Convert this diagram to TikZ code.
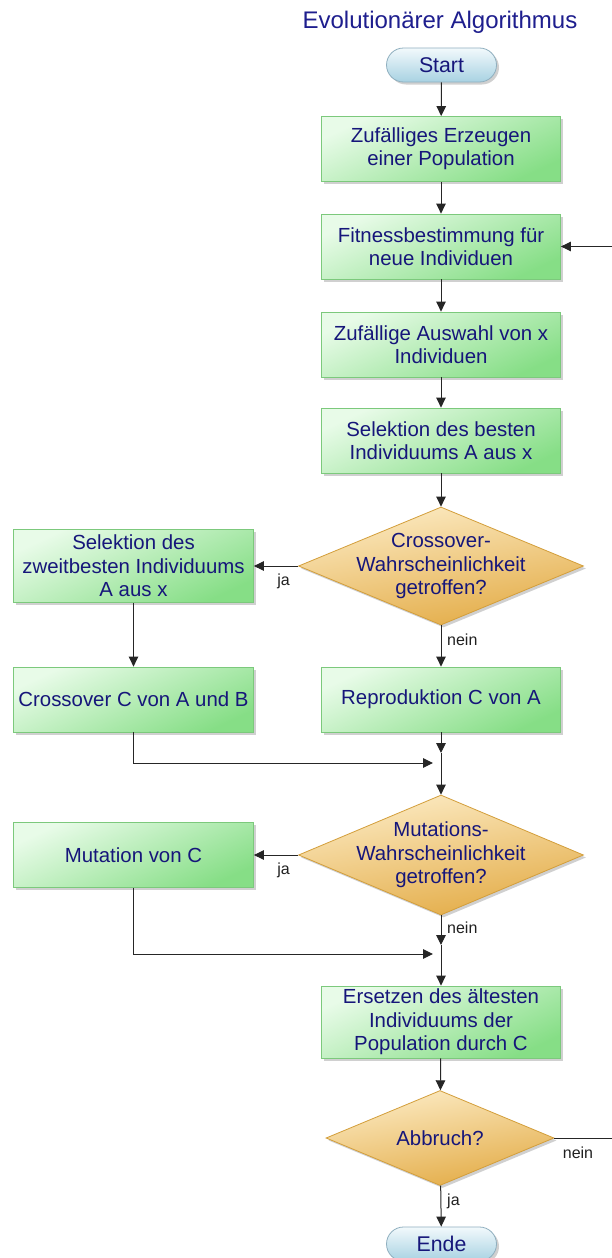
\documentclass[tikz,border=0pt]{standalone}
\usepackage{fontspec}
\setmainfont{Liberation Sans}
\usetikzlibrary{shapes.geometric,arrows.meta,shadows}
\definecolor{txt}{HTML}{16167A}
\definecolor{ttl}{HTML}{1E1E8E}
\definecolor{gbord}{HTML}{7CC97C}
\definecolor{gtop}{HTML}{E8FBE8}
\definecolor{gbot}{HTML}{86DE86}
\definecolor{obord}{HTML}{D39E3A}
\definecolor{otop}{HTML}{FCEBC4}
\definecolor{obot}{HTML}{E3AB45}
\definecolor{bbord}{HTML}{8FAFBF}
\definecolor{btop}{HTML}{F2F9FC}
\definecolor{bbot}{HTML}{A8D2E2}
\definecolor{lblc}{HTML}{202020}
\tikzset{
  boxtext/.style={font=\fontsize{20.4}{23.3}\selectfont, text=txt, align=center},
  shad/.style={drop shadow={shadow xshift=2.5pt, shadow yshift=-2.5pt, opacity=0.3, fill=black!60}},
  procbox/.style={boxtext, rectangle, draw=gbord, line width=0.8pt, top color=gtop, bottom color=gbot, shading angle=25, minimum width=239pt, minimum height=65pt, inner sep=0pt, shad},
  decision/.style={diamond, draw=obord, line width=0.8pt, top color=otop, bottom color=obot, shading angle=10, minimum width=285pt, minimum height=118pt, inner sep=0pt, shad},
  term/.style={rectangle, rounded corners=17pt, draw=bbord, line width=0.8pt, top color=btop, bottom color=bbot, minimum width=110pt, minimum height=34pt, inner sep=0pt, font=\fontsize{21.3}{24}\selectfont, text=txt, shad},
  arr/.style={draw=black!85, line width=1pt, -{Triangle[length=10pt,width=9.5pt]}},
  lbl/.style={font=\fontsize{16}{18}\selectfont, text=lblc, inner sep=0pt}
}
\begin{document}
\begin{tikzpicture}[x=1pt,y=-1pt]
\path[use as bounding box] (0,0) rectangle (612,1258);
\clip (0,0) rectangle (612,1258);
\fill[white] (0,0) rectangle (612,1258);

\node[font=\fontsize{24}{28}\selectfont, text=ttl, anchor=base] (title) at (440,28) {Evolutionärer Algorithmus};

\node[term] (start) at (441.5,65) {Start};
\node[procbox] (b1) at (441,149) {Zufälliges Erzeugen\\einer Population};
\node[procbox] (b2) at (441,246.5) {Fitnessbestimmung für\\neue Individuen};
\node[procbox] (b3) at (441,344.5) {Zufällige Auswahl von x\\Individuen};
\node[procbox] (b4) at (441,440.5) {Selektion des besten\\Individuums A aus x};

\node[decision] (d1) at (441,566) {};
\node[boxtext] (d1t) at (441,566) {Crossover-\\Wahrscheinlichkeit\\getroffen?};
\node[procbox, minimum width=240pt, minimum height=73pt] (sel2) at (133.5,566) {Selektion des\\zweitbesten Individuums\\A aus x};
\node[procbox, minimum width=240pt] (cross) at (133.5,699.5) {Crossover C von A und B};
\node[procbox] (repro) at (441,699.5) {Reproduktion C von A};

\coordinate (j1) at (441,753);
\coordinate (m1) at (441,763);

\node[decision, minimum height=120pt] (d2) at (441,855) {};
\node[boxtext] (d2t) at (441,855) {Mutations-\\Wahrscheinlichkeit\\getroffen?};
\node[procbox, minimum width=240pt] (mut) at (133.5,855) {Mutation von C};

\coordinate (j2) at (441,945);
\coordinate (m2) at (441,954);

\node[procbox, minimum height=72pt] (ers) at (441,1022) {Ersetzen des ältesten\\Individuums der\\Population durch C};
\node[decision, minimum width=228pt, minimum height=95pt] (d3) at (440,1138) {};
\node[boxtext] (d3t) at (440,1138) {Abbruch?};
\node[term] (ende) at (441.5,1244) {Ende};
\coordinate (lp) at (630,1138);

\draw[arr] (start) -- (b1);
\draw[arr] (b1) -- (b2);
\draw[arr] (b2) -- (b3);
\draw[arr] (b3) -- (b4);
\draw[arr] (b4) -- (d1);
\draw[arr] (d1) -- (sel2);
\draw[arr] (sel2) -- (cross);
\draw[arr] (d1) -- (repro);
\draw[arr] (repro) -- (j1);
\draw[arr, shorten >=8pt] (cross.south) |- (m1);
\draw[arr] (j1) -- (d2);
\draw[arr] (d2) -- (mut);
\draw[arr] (d2) -- (j2);
\draw[arr, shorten >=8pt] (mut.south) |- (m2);
\draw[arr] (j2) -- (ers);
\draw[arr] (ers) -- (d3);
\draw[arr] (d3) -- (ende);
\draw[arr] (d3.east) -- (lp) |- (b2.east);

\node[lbl] (ja1) at (283.5,581) {ja};
\node[lbl, anchor=west] (nein1) at (447,640) {nein};
\node[lbl] (ja2) at (283.5,870) {ja};
\node[lbl, anchor=west] (nein2) at (447,928) {nein};
\node[lbl] (nein3) at (578,1153) {nein};
\node[lbl, anchor=west] (ja3) at (447,1201) {ja};
\end{tikzpicture}
\end{document}
